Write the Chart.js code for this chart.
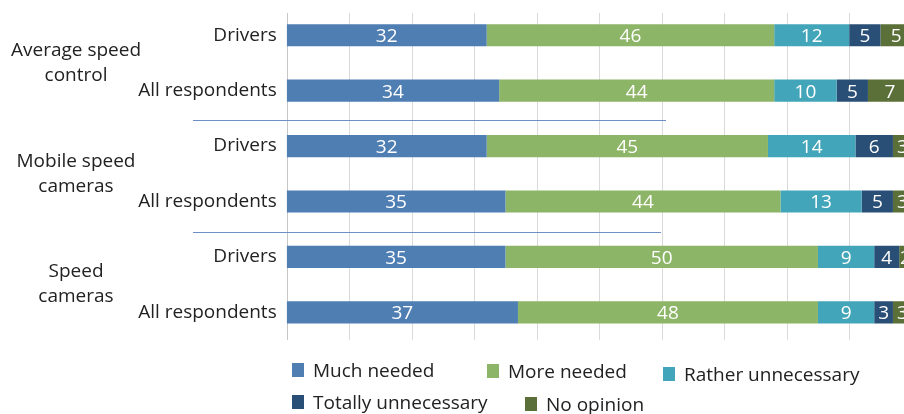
<!DOCTYPE html>
<html>
<head>
<meta charset="utf-8">
<script src="https://cdn.jsdelivr.net/npm/chart.js@4"></script>
<style>
  html, body { margin: 0; padding: 0; width: 904px; height: 414px; overflow: hidden; background: #fff; }
  #wrap { position: absolute; left: 0; top: 0; width: 1000px; height: 414px; }
  #legend { position: absolute; left: 0; top: 0; font-family: "Open Sans", sans-serif; font-size: 19px; color: #222; }
  .item { position: absolute; display: flex; align-items: center; height: 24px; white-space: nowrap; }
  .sw { width: 12px; height: 14px; margin-right: 9px; flex: none; }
</style>
</head>
<body>
<div id="wrap"><canvas id="c" width="1000" height="414"></canvas></div>
<div id="legend"></div>
<script>
const rowLabels = ["Drivers", "All respondents", "Drivers", "All respondents", "Drivers", "All respondents"];
const groupLabels = [["Average speed", "control"], ["Mobile speed", "cameras"], ["Speed", "cameras"]];
const seriesNames = ["Much needed", "More needed", "Rather unnecessary", "Totally unnecessary", "No opinion"];
const muchNeeded = [32, 34, 32, 35, 35, 37];
const moreNeeded = [46, 44, 45, 44, 50, 48];
const ratherUnnecessary = [12, 10, 14, 13, 9, 9];
const totallyUnnecessary = [5, 5, 6, 5, 4, 3];
const noOpinion = [5, 7, 3, 3, 2, 3];
const xTicks = [0, 10, 20, 30, 40, 50, 60, 70, 80, 90, 100];

const colors = ["#4F7EB3", "#8DB567", "#43A5B9", "#2A4F76", "#5B7039"];
const FONT = '"Open Sans", sans-serif';
const legendSpots = [[292, 358], [487, 359], [663, 362], [292, 390], [525, 392]];

const series = [muchNeeded, moreNeeded, ratherUnnecessary, totallyUnnecessary, noOpinion];

const helper = {
  id: 'helper',
  beforeDatasetsDraw(chart) {
    const ctx = chart.ctx, xs = chart.scales.x, area = chart.chartArea;
    ctx.save();
    xTicks.forEach((v, i) => {
      const px = Math.round(xs.getPixelForValue(v)) + 0.5;
      ctx.strokeStyle = i === 0 ? '#c6c6c6' : '#dadada';
      ctx.lineWidth = 1;
      ctx.beginPath();
      ctx.moveTo(px, 13);
      ctx.lineTo(px, area.bottom);
      ctx.stroke();
    });
    ctx.restore();
  },
  afterDatasetsDraw(chart) {
    const ctx = chart.ctx, ys = chart.scales.y;
    ctx.save();
    ctx.font = '19px ' + FONT;
    ctx.fillStyle = '#ffffff';
    ctx.textAlign = 'center';
    ctx.textBaseline = 'middle';
    chart.data.datasets.forEach((ds, di) => {
      chart.getDatasetMeta(di).data.forEach((el, i) => {
        const cx = (el.x + el.base) / 2;
        ctx.fillText(String(ds.data[i]), cx, el.y + 1.5);
      });
    });
    ctx.strokeStyle = '#6E8FC6';
    ctx.lineWidth = 1;
    [[1, 2, 666, 2], [3, 4, 661, 3]].forEach(([a, b, xe, d]) => {
      const y = Math.round((ys.getPixelForValue(a) + ys.getPixelForValue(b)) / 2 + d) + 0.5;
      ctx.beginPath();
      ctx.moveTo(193, y);
      ctx.lineTo(xe, y);
      ctx.stroke();
    });
    ctx.font = '19px ' + FONT;
    ctx.fillStyle = '#222';
    groupLabels.forEach((lines, g) => {
      const yc = (ys.getPixelForValue(g * 2) + ys.getPixelForValue(g * 2 + 1)) / 2;
      lines.forEach((t, k) => {
        ctx.fillText(t, 76, yc + (k - (lines.length - 1) / 2) * 25);
      });
    });
    ctx.restore();
  }
};

const chart = new Chart(document.getElementById('c'), {
  type: 'bar',
  data: {
    labels: rowLabels,
    datasets: series.map((d, i) => ({
      label: seriesNames[i],
      data: d,
      backgroundColor: colors[i],
      borderWidth: 0,
      barPercentage: 0.4,
      categoryPercentage: 1.0
    }))
  },
  options: {
    indexAxis: 'y',
    responsive: false,
    animation: false,
    layout: { padding: { top: 7.5, right: 88.3, bottom: 74, left: 0 } },
    plugins: { legend: { display: false }, tooltip: { enabled: false } },
    scales: {
      x: { stacked: true, min: 0, max: 100, display: false },
      y: {
        stacked: true,
        grid: { display: false, drawTicks: false },
        border: { display: false },
        ticks: { color: '#222', font: { family: FONT, size: 19 }, padding: 10 },
        afterFit(scale) { scale.width = 286.7; scale.paddingTop = 0; scale.paddingBottom = 0; }
      }
    }
  },
  plugins: [helper]
});

const lg = document.getElementById('legend');
chart.data.datasets.forEach((ds, i) => {
  const it = document.createElement('div');
  it.className = 'item';
  it.style.left = legendSpots[i][0] + 'px';
  it.style.top = legendSpots[i][1] + 'px';
  const sw = document.createElement('span');
  sw.className = 'sw';
  sw.style.background = ds.backgroundColor;
  const tx = document.createElement('span');
  tx.textContent = ds.label;
  it.appendChild(sw); it.appendChild(tx);
  lg.appendChild(it);
});
</script>
</body>
</html>
